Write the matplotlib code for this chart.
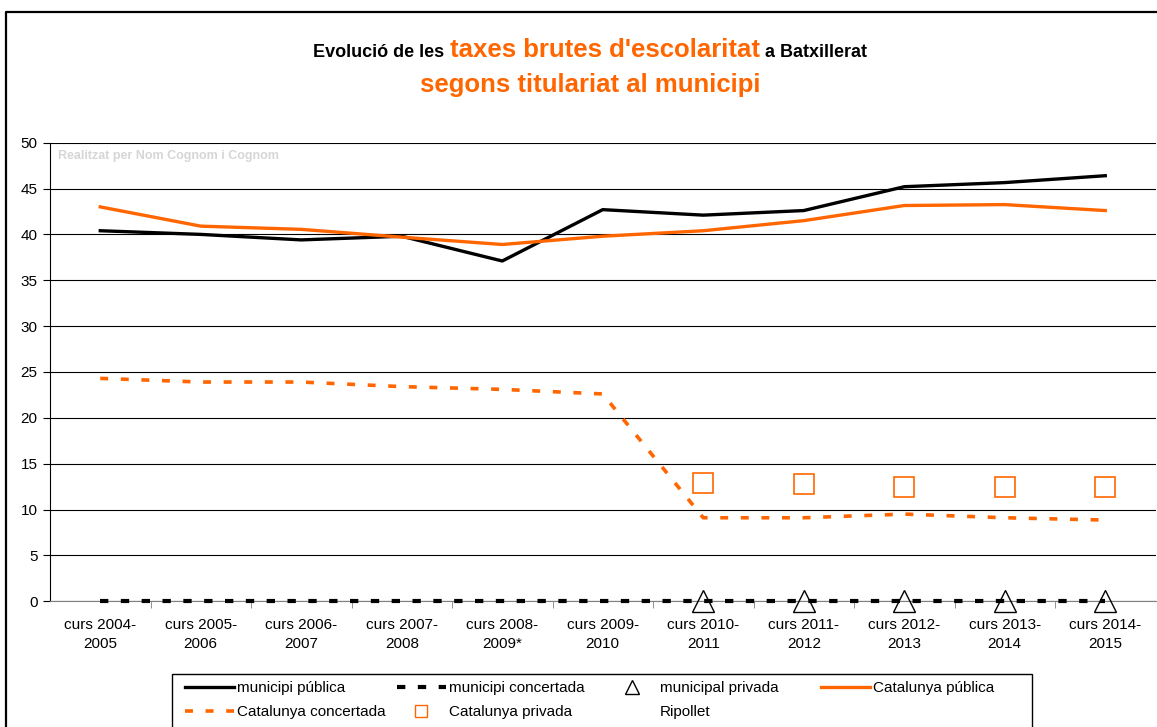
import numpy as np
import matplotlib
matplotlib.use('Agg')
from matplotlib import pyplot as plt
from matplotlib.lines import Line2D
from matplotlib.patches import Rectangle

plt.rcParams['font.family'] = ['Liberation Sans', 'DejaVu Sans']

orange = '#FF6600'

cursos = ['curs 2004-\n2005', 'curs 2005-\n2006', 'curs 2006-\n2007', 'curs 2007-\n2008',
          'curs 2008-\n2009*', 'curs 2009-\n2010', 'curs 2010-\n2011', 'curs 2011-\n2012',
          'curs 2012-\n2013', 'curs 2013-\n2014', 'curs 2014-\n2015']
municipi_publica = [40.4, 40.0, 39.4, 39.8, 37.1, 42.7, 42.1, 42.6, 45.2, 45.65, 46.4]
municipi_concertada = [0, 0, 0, 0, 0, 0, 0, 0, 0, 0, 0]
municipal_privada = [np.nan, np.nan, np.nan, np.nan, np.nan, np.nan, 0, 0, 0, 0, 0]
catalunya_publica = [43.0, 40.9, 40.55, 39.7, 38.9, 39.8, 40.4, 41.5, 43.15, 43.25, 42.6]
catalunya_concertada = [24.3, 23.9, 23.9, 23.4, 23.1, 22.6, 9.1, 9.1, 9.5, 9.1, 8.85]
catalunya_privada = [np.nan, np.nan, np.nan, np.nan, np.nan, np.nan, 12.9, 12.8, 12.5, 12.5, 12.5]

W, H = 1157, 727


def fx(x):
    return x / W


def fy(y):
    return 1 - y / H


fig = plt.figure(figsize=(W / 100, H / 100), dpi=100)

# marc exterior
fig.add_artist(Line2D([fx(6), fx(6), 1.01], [-0.01, fy(12), fy(12)],
                      transform=fig.transFigure, color='black', lw=1.6))

# titol
parts = [('Evolució de les', 'black', 13), ("taxes brutes d'escolaritat", orange, 18.5),
         ('a Batxillerat', 'black', 13)]
texts = [fig.text(0, fy(57), s, color=c, fontsize=fs, fontweight='bold', va='baseline')
         for s, c, fs in parts]
fig.canvas.draw()
r = fig.canvas.get_renderer()
gap = 5
widths = [t.get_window_extent(r).width for t in texts]
x0 = 590 - (sum(widths) + gap * 2) / 2
for t, w in zip(texts, widths):
    t.set_x(fx(x0))
    x0 += w + gap
fig.text(fx(590), fy(92), 'segons titulariat al municipi', color=orange, fontsize=18.5,
         fontweight='bold', ha='center', va='baseline')

ax = fig.add_axes([fx(50), fy(601.2), (1155.5 - 50) / W, (601.2 - 142.7) / H])
x = np.arange(len(cursos))

ax.plot(x, municipi_publica, color='black', lw=2.4)
ax.plot(x, catalunya_publica, color=orange, lw=2.4)
ax.plot(x, catalunya_concertada, color=orange, lw=2.6, ls=(0, (2.2, 3.5)))
ax.plot(x, municipi_concertada, color='black', lw=3.0, ls=(0, (2.0, 3.0)), clip_on=False,
        zorder=3)
ax.plot(x, municipal_privada, ls='none', marker='^', ms=16, mfc='none', mec='black',
        mew=1.0, clip_on=False, zorder=4)
ax.plot(x, catalunya_privada, ls='none', marker='s', ms=15, mfc='none', mec=orange,
        mew=1.2)

ax.set_xlim(-0.5, 10.5)
ax.set_ylim(0, 50)
ax.set_yticks(range(0, 51, 5))
ax.yaxis.grid(True, color='black', lw=0.8)
ax.set_axisbelow(True)
for s in ['top', 'right']:
    ax.spines[s].set_visible(False)
ax.spines['bottom'].set_color('#808080')
ax.spines['left'].set_color('black')
ax.set_xticks(x)
ax.set_xticklabels(cursos, fontsize=11, linespacing=1.45)
ax.set_xticks(np.arange(0.5, 10, 1), minor=True)
ax.tick_params(axis='x', which='major', length=0, pad=12)
ax.tick_params(axis='x', which='minor', length=5, color='#808080')
ax.tick_params(axis='y', length=5, labelsize=11, pad=4)

fig.text(fx(58), fy(159), 'Realitzat per Nom Cognom i Cognom', color='#D6D6D6',
         fontsize=9, fontweight='bold', va='baseline')

# llegenda
fig.add_artist(Rectangle((fx(172), -0.01), fx(1032) - fx(172), fy(674) + 0.01,
                         transform=fig.transFigure, fill=False, ec='black', lw=1))
h_mp = Line2D([], [], color='black', lw=2.4)
h_mc = Line2D([], [], color='black', lw=3.0, ls=(0, (2.0, 3.0)))
h_mpr = Line2D([], [], ls='none', marker='^', ms=10, mfc='none', mec='black')
h_cp = Line2D([], [], color=orange, lw=2.4)
h_cc = Line2D([], [], color=orange, lw=2.6, ls=(0, (2.2, 3.5)))
h_cpr = Line2D([], [], ls='none', marker='s', ms=9, mfc='none', mec=orange)
h_rip = Line2D([], [], color='none')
columnes = [(185, [h_mp, h_cc], ['municipi pública', 'Catalunya concertada']),
            (397, [h_mc, h_cpr], ['municipi concertada', 'Catalunya privada']),
            (608, [h_mpr, h_rip], ['municipal privada', 'Ripollet']),
            (821, [h_cp], ['Catalunya pública'])]
for xc, hs, ls in columnes:
    fig.legend(hs, ls, loc='upper left', bbox_to_anchor=(fx(xc), fy(681)), frameon=False,
               fontsize=11, handlelength=3.2, handletextpad=0.2, borderpad=0,
               borderaxespad=0, labelspacing=0.65)

fig.savefig('out.png', dpi=100)
